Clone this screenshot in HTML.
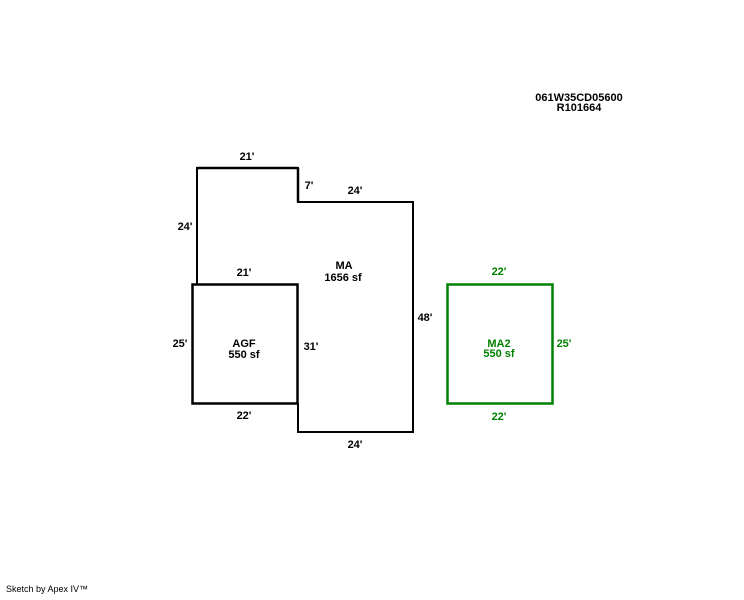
<!DOCTYPE html>
<html><head><style>
body{margin:0;background:#fff;}
svg text{font-family:"Liberation Sans",Arial,sans-serif;font-weight:bold;font-size:11px;}
</style></head><body>
<svg width="744" height="595" viewBox="0 0 744 595" xmlns="http://www.w3.org/2000/svg">
<rect width="744" height="595" fill="#fff"/>
<polyline points="197,284 197,168 298,168 298,202 413,202 413,432 298,432 298,403" fill="none" stroke="#000" stroke-width="2"/>
<line x1="298" y1="168" x2="298" y2="202" stroke="#000" stroke-width="2.5"/>
<line x1="197" y1="168" x2="298" y2="168" stroke="#000" stroke-width="2.5"/>
<rect x="192.5" y="284.5" width="105" height="119" fill="none" stroke="#000" stroke-width="2.5"/>
<rect x="447.5" y="284.5" width="105" height="119" fill="none" stroke="#008000" stroke-width="2.5"/>
<g text-anchor="middle" fill="#000">
<text x="579" y="101">061W35CD05600</text>
<text x="579" y="111">R101664</text>
<text x="247" y="160">21'</text>
<text x="309" y="189">7'</text>
<text x="355" y="194">24'</text>
<text x="185" y="230">24'</text>
<text x="244" y="276">21'</text>
<text x="344" y="269">MA</text>
<text x="343" y="281">1656 sf</text>
<text x="425" y="321">48'</text>
<text x="180" y="347">25'</text>
<text x="244" y="347">AGF</text>
<text x="244" y="358">550 sf</text>
<text x="311" y="350">31'</text>
<text x="244" y="419">22'</text>
<text x="355" y="448">24'</text>
</g>
<g text-anchor="middle" fill="#008000">
<text x="499" y="275">22'</text>
<text x="499" y="347">MA2</text>
<text x="499" y="357">550 sf</text>
<text x="564" y="347">25'</text>
<text x="499" y="420">22'</text>
</g>
<text x="6" y="592" style="font-weight:normal;font-size:9px">Sketch by Apex IV™</text>
</svg>
</body></html>
